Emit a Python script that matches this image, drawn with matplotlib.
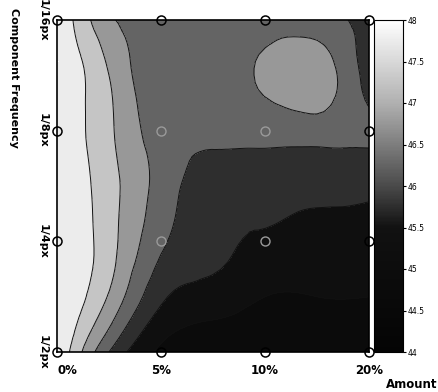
import numpy as np
import matplotlib.pyplot as plt
import matplotlib.tri as mtri
from matplotlib.colors import LinearSegmentedColormap, Normalize
from matplotlib.cm import ScalarMappable

# axis categories (measurement nodes)
amount_labels = ["0%", "5%", "10%", "20%"]
freq_labels = ["1/16px", "1/8px", "1/4px", "1/2px"]

grid_x = [0.0, 0.5, 1.0, 1.5, 2.0, 2.5, 3.0]
grid_y = [0.0, 0.5, 1.0, 1.5, 2.0, 2.5, 3.0]

# values, one row per grid_y (top = 1/16px)
values = [
    [48.0, 46.6, 46.3, 46.25, 46.3, 46.2, 45.8],
    [48.0, 47.0, 46.1, 46.25, 46.58, 46.75, 45.75],
    [47.9, 47.1, 46.25, 46.15, 46.2, 46.25, 46.1],
    [48.0, 47.2, 46.3, 45.7, 45.65, 45.6, 45.6],
    [48.0, 47.2, 46.1, 45.6, 45.45, 45.4, 45.35],
    [48.0, 46.95, 45.6, 45.3, 45.0, 45.0, 45.0],
    [48.0, 46.0, 44.9, 44.5, 44.5, 44.5, 44.5],
]

levels = [44, 44.5, 45, 45.5, 46, 46.5, 47, 47.5, 48]
cbar_ticks = [44, 44.5, 45, 45.5, 46, 46.5, 47, 47.5, 48]

cmap = LinearSegmentedColormap.from_list(
    "scan_gray",
    [(0.0, "#040404"), (0.375, "#111111"), (0.5, "#4a4a4a"),
     (0.75, "#b0b0b0"), (1.0, "#ffffff")])
cmap.set_under("#040404")
cmap.set_over("#ffffff")
norm = Normalize(44, 48)

fig = plt.figure(figsize=(4.38, 3.92), dpi=100)
W, H = 438, 392
ax = fig.add_axes([57 / W, 1 - 352 / H, (369 - 57) / W, (352 - 20) / H])
cax = fig.add_axes([374 / W, 1 - 352 / H, (403 - 374) / W, (352 - 20) / H])

X, Y = np.meshgrid(grid_x, grid_y)
Z = np.array(values)
tri = mtri.Triangulation(X.ravel(), Y.ravel())
refiner = mtri.UniformTriRefiner(tri)
tri_f, z_f = refiner.refine_field(Z.ravel(), subdiv=3)

ax.tricontourf(tri_f, z_f, levels=levels, cmap=cmap, norm=norm, extend="both")
ax.tricontour(tri_f, z_f, levels=levels[1:-1], colors="#111111", linewidths=0.7)

# measurement nodes
nx, ny = np.meshgrid(range(len(amount_labels)), range(len(freq_labels)))
edge = (nx == 0) | (nx == 3) | (ny == 0) | (ny == 3)
ax.plot(nx[edge], ny[edge], "o", ms=6.5, mfc="none", mec="black", mew=1.1, clip_on=False)
ax.plot(nx[~edge], ny[~edge], "o", ms=6.5, mfc="none", mec="#9a9a9a", mew=1.0, clip_on=False)

ax.set_xlim(0, 3)
ax.set_ylim(3, 0)
ax.set_xticks(range(len(amount_labels)))
ax.set_xticklabels(amount_labels, fontsize=8.5, fontweight="bold")
ax.get_xticklabels()[0].set_horizontalalignment("left")
ax.set_yticks(range(len(freq_labels)))
ax.set_yticklabels(freq_labels, fontsize=8, fontweight="bold", rotation=-90, va="center")
ax.tick_params(length=0, pad=9)
ax.tick_params(axis="y", pad=7)
for s in ax.spines.values():
    s.set_linewidth(1.2)

cb = fig.colorbar(ScalarMappable(norm=norm, cmap=cmap), cax=cax)
cb.set_ticks(cbar_ticks)
cb.set_ticklabels(["44", "44.5", "45", "45.5", "46", "46.5", "47", "47.5", "48"])
cax.tick_params(labelsize=5.5, length=2, pad=1)
cb.outline.set_linewidth(0.8)

fig.text(14 / W, 1 - 8 / H, "Component Frequency", rotation=-90, ha="center", va="top",
         fontsize=8, fontweight="bold")
fig.text(412 / W, 1 - 384 / H, "Amount", ha="center", va="center",
         fontsize=8.5, fontweight="bold")

fig.savefig("out.png", dpi=100)
